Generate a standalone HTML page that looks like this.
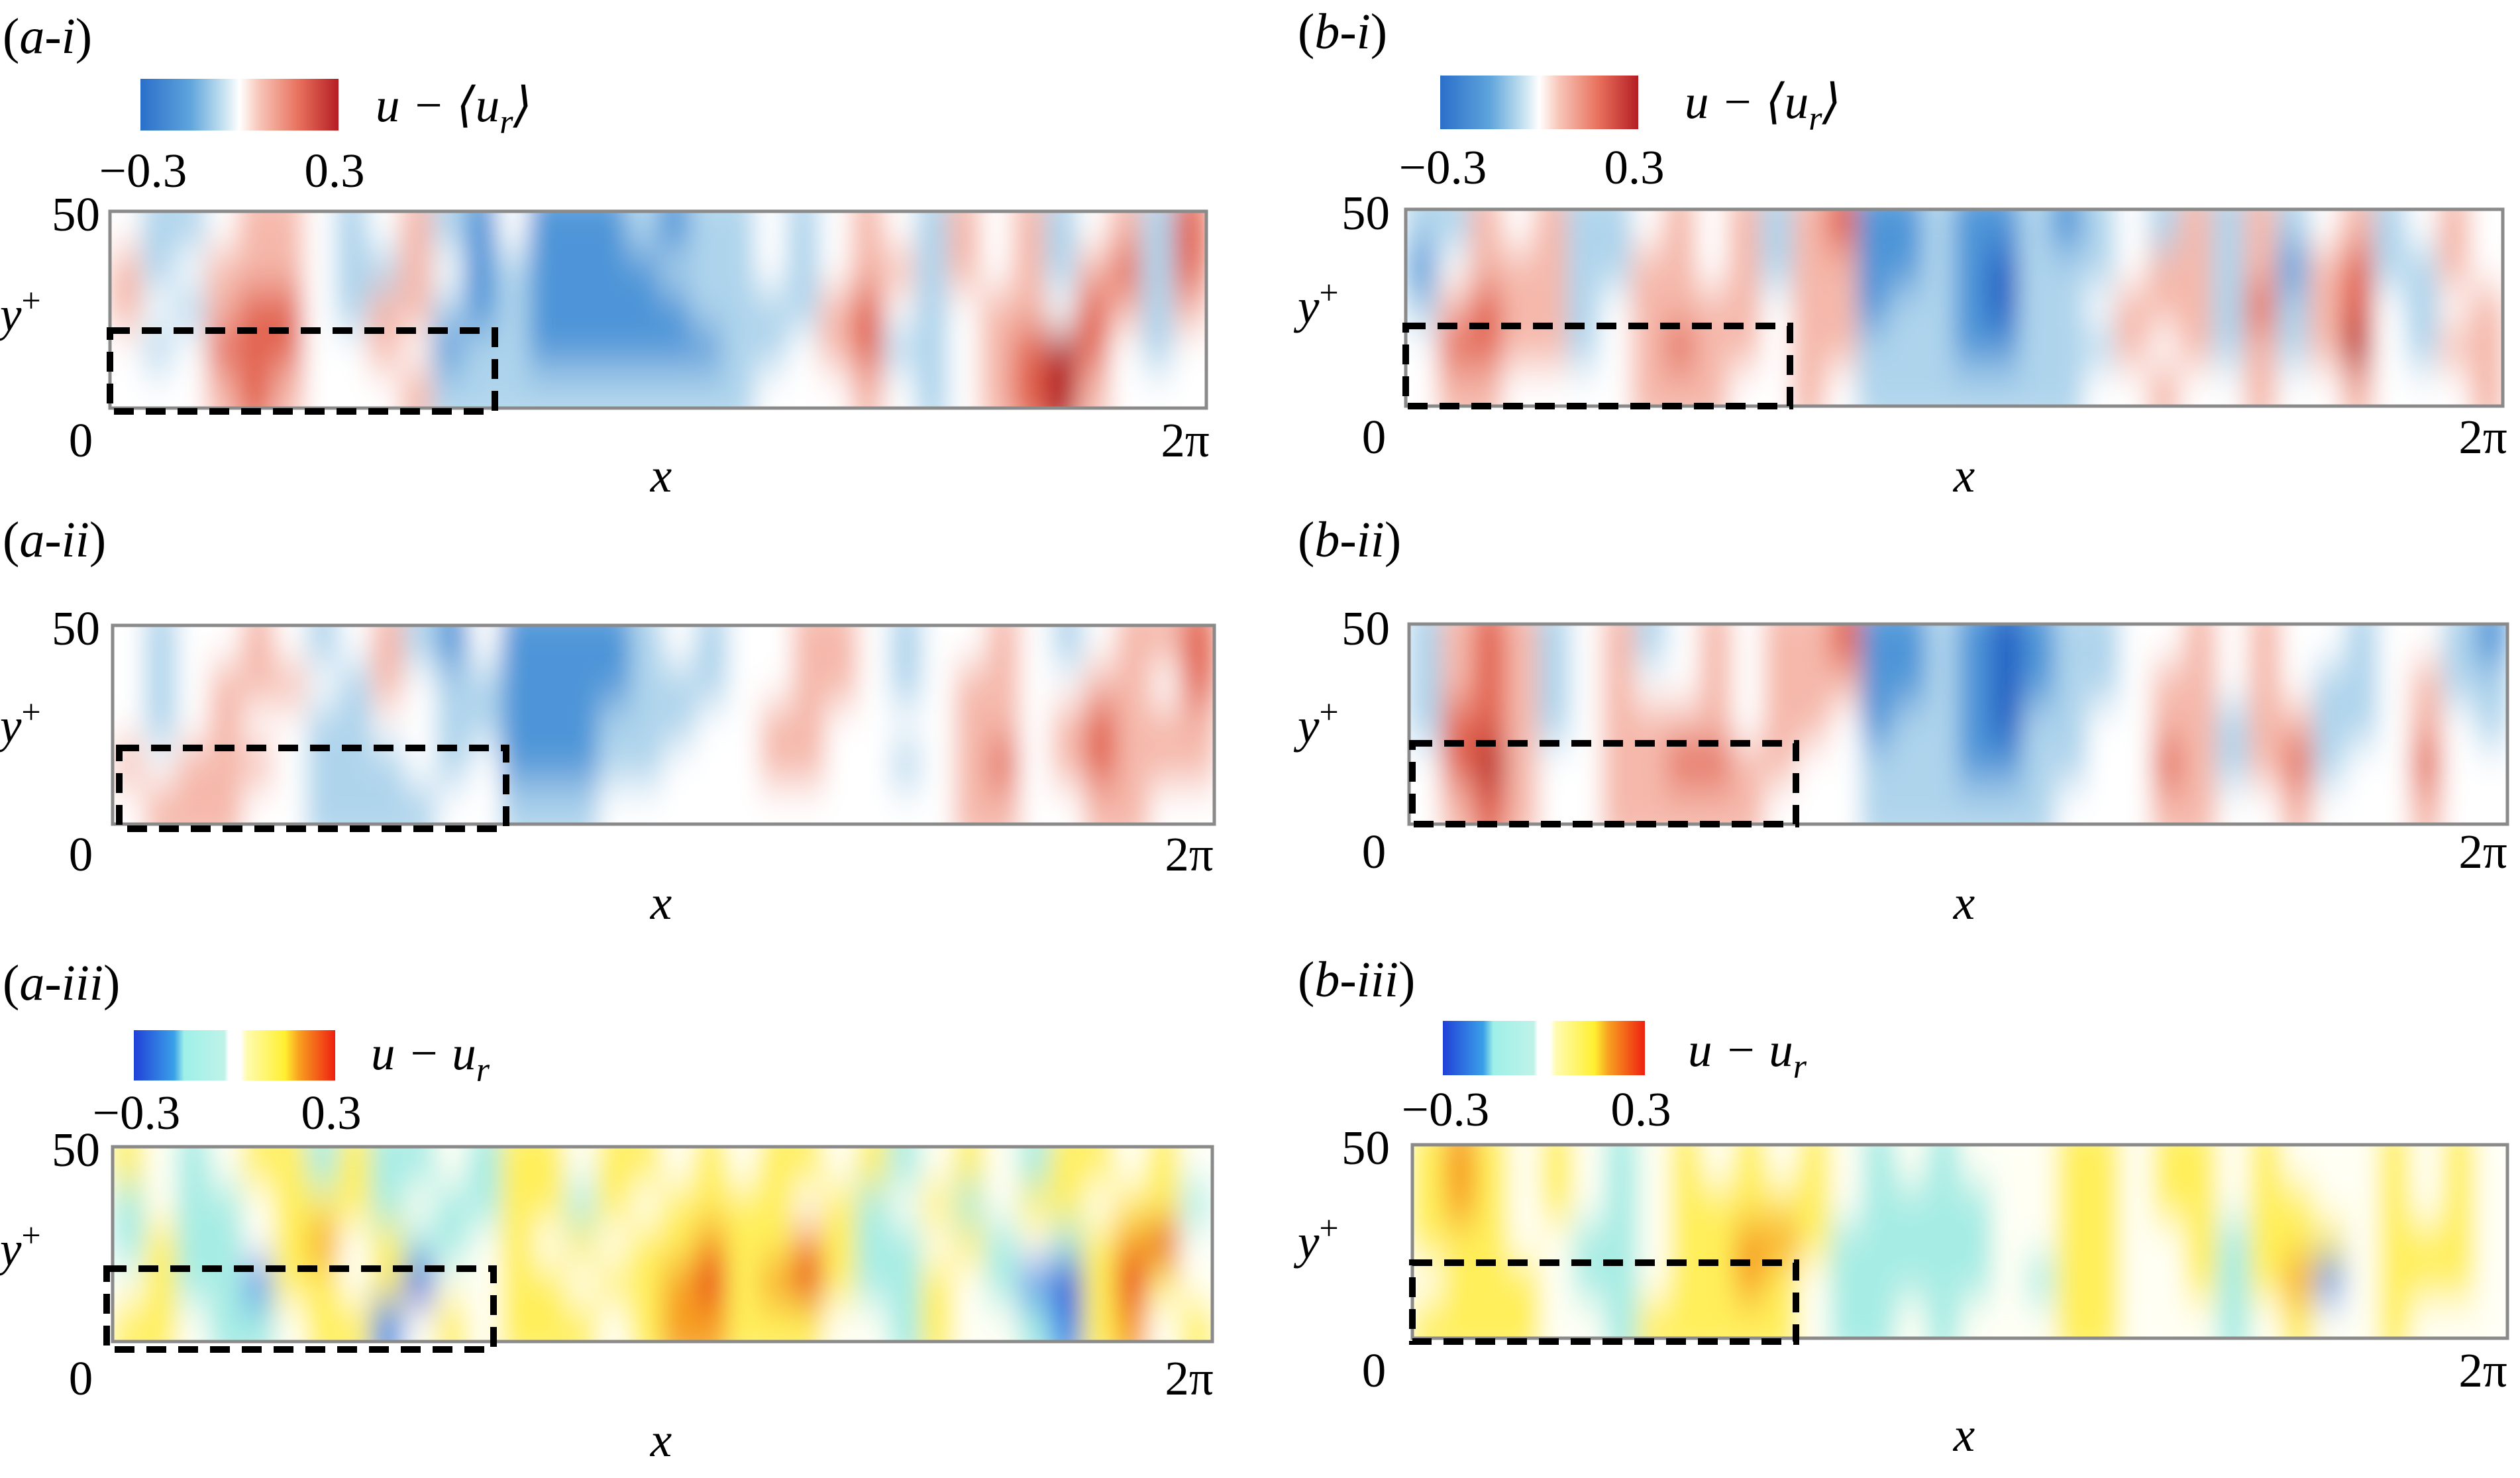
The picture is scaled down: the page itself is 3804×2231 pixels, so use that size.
<!DOCTYPE html>
<html><head><meta charset="utf-8"><style>
html,body{margin:0;padding:0;background:#fff;}
svg{display:block;}
svg text{font-family:"Liberation Serif","DejaVu Serif","Times New Roman",serif;fill:#000;}
.it{font-style:italic;}
</style></head><body>
<svg id="fig" width="3804" height="2231" viewBox="0 0 3804 2231" xmlns="http://www.w3.org/2000/svg">
<defs>
<filter id="blur" x="-5%" y="-20%" width="110%" height="140%"><feGaussianBlur stdDeviation="18 34"/></filter>
<linearGradient id="divGrad" x1="0" x2="1" y1="0" y2="0">
<stop offset="0" stop-color="#2a6fc9"/><stop offset="0.25" stop-color="#5ea4dc"/><stop offset="0.42" stop-color="#c6e2f0"/><stop offset="0.5" stop-color="#ffffff"/><stop offset="0.6" stop-color="#f7c5b8"/><stop offset="0.8" stop-color="#e8705c"/><stop offset="1" stop-color="#b51d24"/></linearGradient>
<linearGradient id="jetGrad" x1="0" x2="1" y1="0" y2="0">
<stop offset="0" stop-color="#2040d8"/><stop offset="0.2" stop-color="#3aa0e8"/><stop offset="0.25" stop-color="#9ef0e8"/><stop offset="0.45" stop-color="#bff2e8"/><stop offset="0.47" stop-color="#ffffff"/><stop offset="0.53" stop-color="#ffffff"/><stop offset="0.56" stop-color="#fffbb0"/><stop offset="0.75" stop-color="#fff030"/><stop offset="0.82" stop-color="#f8a020"/><stop offset="1" stop-color="#ee2010"/></linearGradient>
</defs>
<g id="layer"></g>
</svg>
<script>
// Panel data: 5 rows (top y+=50 to bottom y+=0) x 34 columns along x, values in units of 0.1
const aI = [
[0,-1,-1,0,1,1,0,-1,0,1,-1,-2,0,-2,-2,-2,-1,-2,-1,-1,0,-1,0,1,0,-1,1,0,1,-1,0,1,-1,2],
[1,-1,0,1,1,1,0,-1,-1,1,0,-2,-1,-2,-2,-2,-2,-1,-1,-1,0,-1,0,1,1,-1,1,0,1,-1,1,2,-1,2],
[1,0,-1,1,2,2,0,-1,1,1,-1,-2,-1,-2,-2,-2,-2,-2,-1,-1,-1,-1,1,2,0,-1,0,1,1,0,2,1,-1,1],
[0,-1,0,2,2,2,0,0,1,0,-2,-1,-1,-2,-2,-2,-2,-2,-2,-1,-1,0,1,2,-1,-1,0,1,2,3,2,0,-1,0],
[0,0,0,1,2,1,0,0,0,1,-1,-1,-1,-1,-1,-1,-1,-1,-1,-1,0,0,0,1,0,-1,0,1,2,3,1,0,0,0]];
const aII = [
[0,-1,0,0,1,0,-1,0,1,-1,-2,0,-2,-2,-2,-2,-1,0,-1,0,0,1,1,0,-1,0,0,1,0,-1,0,1,1,2],
[0,-1,0,1,1,1,0,-1,1,0,-1,-1,-2,-2,-2,-2,-1,-1,-1,0,0,1,1,0,-1,0,1,1,0,0,1,1,0,2],
[0,-1,0,1,0,0,-1,-1,0,0,-1,-1,-2,-2,-2,-1,-1,-1,0,0,1,1,0,0,0,0,1,1,0,1,2,1,1,1],
[1,0,1,1,1,0,-1,-1,-1,0,-1,0,-2,-2,-2,-1,-1,0,0,0,1,1,0,0,-1,0,1,2,0,1,2,1,1,1],
[0,1,1,1,0,0,-1,-1,-1,-1,0,0,-1,-1,-1,0,0,0,0,0,0,0,0,0,0,0,1,1,0,0,1,1,0,0]];
const aIII = [
[1,0,-1,0,1,1,-1,1,-1,-1,0,-1,1,1,0,1,1,0,1,0,1,1,0,1,-1,0,1,0,-1,1,1,0,1,0],
[-1,0,-1,-1,0,1,1,1,-1,0,-1,-1,1,1,-1,1,0,1,1,1,1,0,1,-1,0,1,-1,0,1,1,0,1,1,-1],
[-1,1,-1,-1,0,1,2,0,1,-1,-1,0,1,0,1,0,1,1,2,1,1,2,1,-1,-1,0,1,-1,0,-1,1,2,3,0],
[0,1,-1,-1,-2,1,1,0,1,-3,0,0,1,1,0,1,1,2,3,1,2,3,1,-1,-1,1,0,-1,-2,-3,1,3,1,0],
[1,1,0,-1,-1,0,1,1,-2,0,1,0,1,1,1,0,1,2,2,1,1,1,0,0,-1,1,0,0,-1,-2,1,2,0,1]];
const bI = [
[-1,-1,1,0,1,-1,-1,0,1,0,1,-1,1,2,-2,-2,-1,-2,-2,-1,-2,-1,0,-1,1,-1,1,-1,0,1,-1,0,1,0],
[-2,0,1,1,1,-1,-1,1,1,0,1,-1,1,1,-2,-2,-1,-2,-3,-1,-1,-1,0,1,1,-1,1,-2,1,2,-1,-1,1,0],
[-1,1,2,1,1,-1,0,1,1,1,1,0,1,1,-2,-1,-1,-2,-3,-1,-1,0,1,1,1,-1,2,-1,1,2,0,-1,0,1],
[0,2,2,1,1,-1,0,1,2,1,1,0,1,1,-1,-1,-1,-2,-2,-1,-1,-1,1,0,1,-1,1,-1,1,3,0,-1,1,1],
[0,1,1,0,0,0,0,1,1,1,0,0,1,0,-1,-1,-1,-1,-1,-1,-1,0,0,1,0,0,1,0,0,1,0,0,0,1]];
const bII = [
[-1,1,2,1,-1,0,1,-1,0,1,0,1,1,2,-2,-2,-1,-2,-3,-2,-1,-1,0,0,1,0,1,0,0,-1,0,0,-1,-2],
[-1,1,2,1,-1,0,1,0,0,1,0,1,1,1,-2,-2,-1,-2,-3,-2,-1,-1,0,1,1,0,1,0,-1,-1,0,1,-1,-1],
[-1,2,2,1,-1,0,1,1,1,1,0,1,1,0,-2,-1,-1,-2,-3,-1,-1,0,0,1,1,-1,1,1,-1,-1,0,1,0,-1],
[0,2,3,1,0,0,1,1,2,2,1,1,0,0,-1,-1,-1,-2,-2,-1,-1,0,0,2,1,-1,1,2,-1,0,0,2,0,0],
[0,1,2,1,0,0,1,1,1,1,1,0,0,0,-1,-1,-1,-1,-1,-1,0,0,0,1,1,0,0,1,0,0,0,1,0,0]];
const bIII = [
[1,2,1,0,1,0,-1,0,1,0,1,0,1,0,-1,0,-1,0,0,0,1,1,0,1,1,0,1,0,0,0,1,0,1,0],
[1,2,1,0,1,0,-1,0,1,1,1,1,1,0,-1,-1,-1,-1,0,0,1,1,0,1,1,0,1,1,0,0,1,0,1,0],
[1,1,1,0,0,-1,-1,0,1,1,2,2,1,-1,-1,-1,-1,-1,0,0,1,1,0,0,1,-1,1,1,1,0,1,1,1,0],
[0,1,1,1,0,-1,-1,0,1,1,2,1,0,-1,-1,-1,-1,-1,0,-1,1,1,0,0,1,-1,1,2,-2,0,1,1,1,0],
[1,1,1,1,0,0,-1,1,1,1,1,1,0,-1,-1,0,-1,0,0,0,1,1,0,0,0,-1,0,1,0,0,1,0,0,0]];
const cbTicks = ["\u22120.3","0.3"];
const yTicks = ["50","0"];
const xTicks = ["0","2\u03c0"];

const divCols = {"-3":"#2164c4","-2":"#4e95d8","-1":"#aed4ec","0":"#ffffff","1":"#f5b8aa","2":"#e2644f","3":"#b41c22"};
const jetCols = {"-3":"#2040d8","-2":"#3a8ee8","-1":"#a6ece4","0":"#fffff4","1":"#ffef5a","2":"#f7a020","3":"#e82612"};
const NS="http://www.w3.org/2000/svg";
const layer=document.getElementById('layer');
function mk(tag,attrs,parent){const e=document.createElementNS(NS,tag);for(const k in attrs)e.setAttribute(k,attrs[k]);(parent||layer).appendChild(e);return e;}
function txt(x,y,s,anchor,cls,size){const t=mk('text',{x:x,y:y,'text-anchor':anchor||'start','font-size':size||73});if(cls)t.setAttribute('class',cls);t.innerHTML=s;return t;}

const panels=[
 {id:'a-i',data:aI,cm:divCols,x0:166,x1:1821,y0:319,y1:616,box:[166,499,747,621],lab:[4,80],lbl:'(<tspan class="it">a</tspan>-<tspan class="it">i</tspan>)',cb:[212,119,511,197,'divGrad',282,'u \u2212 \u27e8u<tspan baseline-shift="-18" font-size="52">r</tspan>\u27e9',567,183],
  y50:[151,348],y0t:[122,689],xt:[1789,689],xl:[998,742],yl:[0,499]},
 {id:'a-ii',data:aII,cm:divCols,x0:170,x1:1833,y0:944,y1:1244,box:[180,1129,764,1251],lab:[4,840],lbl:'(<tspan class="it">a</tspan>-<tspan class="it">ii</tspan>)',
  y50:[151,973],y0t:[122,1314],xt:[1795,1314],xl:[998,1387],yl:[0,1120]},
 {id:'a-iii',data:aIII,cm:jetCols,x0:170,x1:1830,y0:1731,y1:2025,box:[161,1915,745,2037],lab:[4,1509],lbl:'(<tspan class="it">a</tspan>-<tspan class="it">iii</tspan>)',cb:[202,1555,506,1631,'jetGrad',1704,'u \u2212 u<tspan baseline-shift="-18" font-size="52">r</tspan>',560,1614],
  y50:[151,1760],y0t:[122,2105],xt:[1795,2105],xl:[998,2198],yl:[0,1910]},
 {id:'b-i',data:bI,cm:divCols,x0:2122,x1:3778,y0:316,y1:613,box:[2122,492,2702,613],lab:[1959,73],lbl:'(<tspan class="it">b</tspan>-<tspan class="it">i</tspan>)',cb:[2174,114,2473,195,'divGrad',277,'u \u2212 \u27e8u<tspan baseline-shift="-18" font-size="52">r</tspan>\u27e9',2543,178],
  y50:[2098,346],y0t:[2074,684],xt:[3748,684],xl:[2965,742],yl:[1959,487]},
 {id:'b-ii',data:bII,cm:divCols,x0:2127,x1:3785,y0:942,y1:1244,box:[2132,1122,2711,1244],lab:[1959,840],lbl:'(<tspan class="it">b</tspan>-<tspan class="it">ii</tspan>)',
  y50:[2098,973],y0t:[2074,1310],xt:[3748,1310],xl:[2965,1387],yl:[1959,1120]},
 {id:'b-iii',data:bIII,cm:jetCols,x0:2132,x1:3785,y0:1728,y1:2020,box:[2132,1906,2711,2025],lab:[1959,1504],lbl:'(<tspan class="it">b</tspan>-<tspan class="it">iii</tspan>)',cb:[2178,1541,2483,1623,'jetGrad',1699,'u \u2212 u<tspan baseline-shift="-18" font-size="52">r</tspan>',2548,1609],
  y50:[2098,1757],y0t:[2074,2093],xt:[3748,2093],xl:[2965,2190],yl:[1959,1899]}
];

panels.forEach((p,pi)=>{
  const g=mk('g',{});
  
  
  const rows=p.data.length, cols=p.data[0].length;
  const xs=c=>p.x0+(p.x1-p.x0)*c/cols;
  const ys=r=>p.y0+(p.y1-p.y0)*r/rows;
  const cp=mk('clipPath',{id:'clip'+pi},g);
  mk('rect',{x:p.x0,y:p.y0,width:p.x1-p.x0,height:p.y1-p.y0},cp);
  const hm=mk('g',{'clip-path':'url(#clip'+pi+')'},g);
  
  
  mk('rect',{x:p.x0,y:p.y0,width:p.x1-p.x0,height:p.y1-p.y0,fill:'#fff'},hm);
  const bl=mk('g',{filter:'url(#blur)'},hm);
  for(let r=0;r<rows;r++)for(let c=0;c<cols;c++){
    const v=Math.max(-3,Math.min(3,Math.round(p.data[r][c])));
    const ext = (r===0?-40:0), extB=(r===rows-1?40:0);
    const cell=mk('rect',{x:xs(c)-0.5,y:ys(r)-0.5+ext,width:xs(c+1)-xs(c)+1,height:ys(r+1)-ys(r)+1-ext+extB,fill:p.cm[v]},bl);
    
    
  }
  const fr=mk('rect',{x:p.x0,y:p.y0,width:p.x1-p.x0,height:p.y1-p.y0,fill:'none',stroke:'#8a8a8a','stroke-width':5},g);
  
  
  const b=p.box;
  const bx=mk('rect',{x:b[0],y:b[1],width:b[2]-b[0],height:b[3]-b[1],fill:'none',stroke:'#000','stroke-width':10,'stroke-dasharray':'30 18'},g);
  
  
  const lt=txt(p.lab[0],p.lab[1],p.lbl,'start',null,76);
  
  
  const t50=txt(p.y50[0],p.y50[1],yTicks[0],'end');
  
  
  const t0=txt(p.y0t[0],p.y0t[1],xTicks[0],'middle');
  
  
  const t2=txt(p.xt[0],p.xt[1],xTicks[1],'middle');
  
  
  const xl=txt(p.xl[0],p.xl[1],'x','middle','it');
  
  
  const yl=txt(p.yl[0],p.yl[1],'y<tspan baseline-shift="28" font-size="52" font-style="normal">+</tspan>','start','it');
  
  
  if(p.cb){
    const c=p.cb;
    const cr=mk('rect',{x:c[0],y:c[1],width:c[2]-c[0],height:c[3]-c[1],fill:'url(#'+c[4]+')'},g);
    
    
    const l1=txt(c[0]+4,c[5],cbTicks[0],'middle');
    
    
    const l2=txt(c[2]-6,c[5],cbTicks[1],'middle');
    
    
    const ct=txt(c[7],c[8],c[6],'start','it');
    
    
  }
});
</script>
</body></html>
